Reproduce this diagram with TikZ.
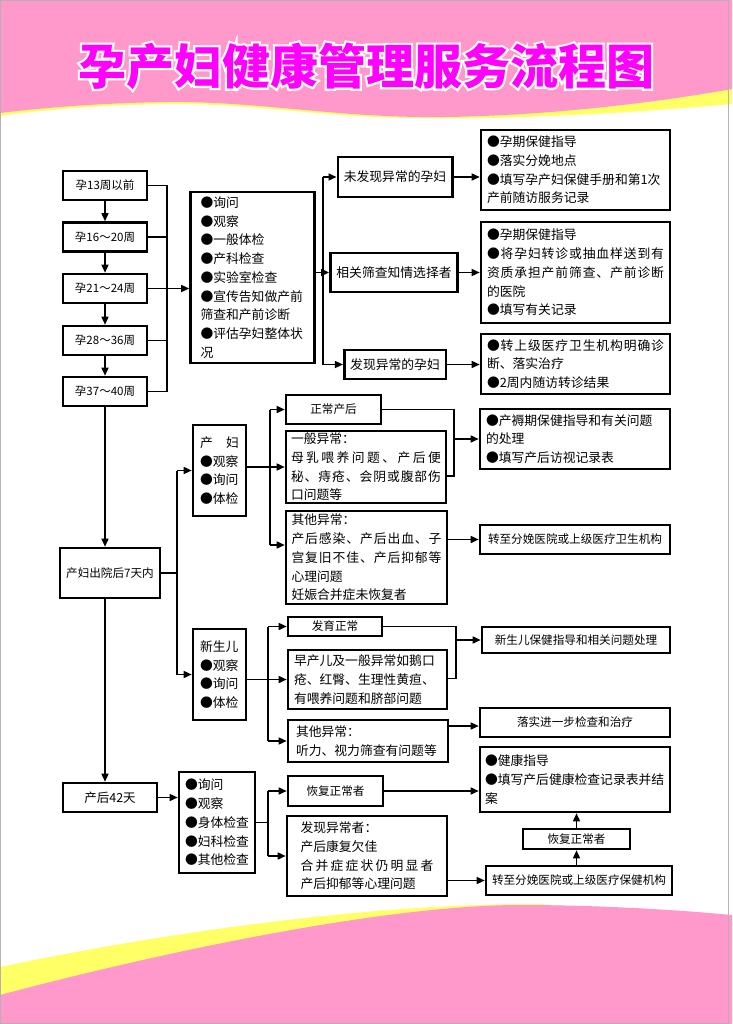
\documentclass[tikz,border=0pt]{standalone}
\usepackage{fontspec}
\setmainfont{Noto Sans CJK SC}
\newfontfamily\titleline{Noto Sans CJK SC}[BoldFeatures={FakeBold=9}]
\usetikzlibrary{arrows.meta}
\definecolor{bandpink}{HTML}{FF99CC}
\definecolor{bandyellow}{HTML}{FFFF66}
\definecolor{titlemag}{HTML}{FF00FF}

% spread the characters of one line over the full text width
\makeatletter
\def\spr@#1#2{#1\ifx\relax#2\expandafter\@gobble\else\hfil\fi\spr@#2}
\newcommand\spr[1]{\makebox[\hsize][s]{\spr@#1\relax}}
\makeatother

\begin{document}
\begin{tikzpicture}[x=1pt, y=-1pt,
    box/.style = {draw, line width=2.6pt, inner xsep=6pt, inner ysep=2pt, align=left, font=\fontsize{12.8}{18.7}\selectfont},
    sbox/.style = {box, align=center, font=\fontsize{11.6}{14}\selectfont},
    wbox/.style = {sbox, minimum width=84pt, minimum height=29pt, font=\fontsize{11.5}{14}\selectfont},
    line/.style = {line width=1.5pt},
    arrow/.style = {line, -{Triangle[length=8pt, width=7pt]}},
    titletext/.style = {font=\fontsize{48}{48}\selectfont\bfseries, inner sep=0pt}
]
    \useasboundingbox (0,0) rectangle (732,1024);

    % background bands
    \fill[white] (0,0) rectangle (732,1024);
    \fill[bandyellow] (0,0) -- (732,0) -- (732,104) .. controls (620,114) and (500,120) .. (410,118) .. controls (320,117) and (250,103) .. (167,104) .. controls (100,105) and (40,110) .. (0,116) -- cycle;
    \fill[bandpink] (0,0) -- (732,0) -- (732,89) .. controls (620,109) and (500,118) .. (420,117) .. controls (330,116) and (250,101) .. (167,102) .. controls (100,103) and (40,108) .. (0,113) -- cycle;
    \fill[bandyellow] (0,967) .. controls (200,925) and (400,903) .. (540,904) -- (732,918) -- (732,1024) -- (0,1024) -- cycle;
    \fill[bandpink] (0,995) .. controls (150,955) and (380,905) .. (520,905) .. controls (600,905) and (680,910) .. (732,915) -- (732,1024) -- (0,1024) -- cycle;
    \draw[gray!60, line width=1pt] (0.5,0.5) rectangle (728,1023.5);

    % title with white outline
    \node[titletext, font=\fontsize{48}{48}\selectfont\titleline\bfseries, text=white] (tout) at (366,66) {孕产妇健康管理服务流程图};
    \node[titletext, text=titlemag] (title) at (366,66) {孕产妇健康管理服务流程图};

    % pregnancy weeks
    \node[wbox] (w13) at (105,185.5) {孕13周以前};
    \node[wbox] (w16) at (105,237) {孕16～20周};
    \node[wbox] (w21) at (105,288.5) {孕21～24周};
    \node[wbox] (w28) at (105,340.5) {孕28～36周};
    \node[wbox] (w37) at (105,391.5) {孕37～40周};

    \node[box, text width=104pt, inner xsep=10pt, minimum height=171pt] (main) at (252.5,277.5)
        {●询问\\●观察\\●一般体检\\●产科检查\\●实验室检查\\●宣传告知做产前\\筛查和产前诊断\\●评估孕妇整体状\\况};

    \node[box, align=center, minimum width=100pt, minimum height=40pt] (sel1) at (395,177) {未发现异常的孕妇};
    \node[box, align=center, minimum width=114pt, minimum height=39pt] (sel2) at (394,272.5) {相关筛查知情选择者};
    \node[box, align=center, minimum width=96pt, minimum height=29pt] (sel3) at (395,364.5) {发现异常的孕妇};

    \node[box, text width=177pt, minimum height=80pt] (res1) at (575.5,170)
        {●孕期保健指导\\●落实分娩地点\\●填写孕产妇保健手册和第1次\\产前随访服务记录};
    \node[box, text width=177pt, minimum height=101pt] (res2) at (575.5,272.5)
        {●孕期保健指导\\\spr{●将孕妇转诊或抽血样送到有}\\\spr{资质承担产前筛查、产前诊断}\\的医院\\●填写有关记录};
    \node[box, text width=177pt, minimum height=60pt] (res3) at (575.5,364)
        {\spr{●转上级医疗卫生机构明确诊}\\断、落实治疗\\●2周内随访转诊结果};

    % after discharge
    \node[sbox, minimum width=94pt, minimum height=50pt] (pp7) at (110,573) {产妇出院后7天内};
    \node[box, text width=39pt, inner xsep=7pt, minimum height=91pt] (mom) at (219.5,470.5)
        {\makebox[\hsize][s]{产\hfil 妇}\\●观察\\●询问\\●体检};
    \node[box, text width=39pt, inner xsep=7pt, minimum height=91pt] (baby) at (219.5,674.5)
        {新生儿\\●观察\\●询问\\●体检};

    \node[sbox, minimum width=95pt, minimum height=29pt] (nor) at (333.5,409.5) {正常产后};
    \node[box, text width=150pt, inner xsep=5pt, minimum height=68pt] (gen) at (366,467)
        {一般异常：\\\spr{母乳喂养问题、产后便}\\\spr{秘、痔疮、会阴或腹部伤}\\口问题等};
    \node[box, text width=150pt, inner xsep=5.5pt, minimum height=93pt] (oth) at (366.5,557.5)
        {其他异常：\\\spr{产后感染、产后出血、子}\\\spr{宫复旧不佳、产后抑郁等}\\心理问题\\妊娠合并症未恢复者};
    \node[box, text width=178pt, minimum height=60pt] (rmom) at (575,439)
        {●产褥期保健指导和有关问题\\的处理\\●填写产后访视记录表};
    \node[sbox, minimum width=190pt, minimum height=29pt] (rtr) at (575,539.5) {转至分娩医院或上级医疗卫生机构};

    \node[sbox, minimum width=94pt, minimum height=19pt] (dev) at (335,626.5) {发育正常};
    \node[box, text width=147pt, minimum height=59pt] (pre) at (367.5,679.5)
        {早产儿及一般异常如鹅口\\疮、红臀、生理性黄疸、\\有喂养问题和脐部问题};
    \node[box, text width=144pt, inner xsep=8pt, minimum height=42pt] (oth2) at (368,741)
        {其他异常：\\听力、视力筛查有问题等};
    \node[sbox, minimum width=188pt, minimum height=26pt] (rbaby) at (576,640) {新生儿保健指导和相关问题处理};
    \node[sbox, minimum width=190pt, minimum height=29pt] (rfur) at (575,722.5) {落实进一步检查和治疗};

    % 42 days
    \node[sbox, minimum width=94pt, minimum height=29pt, font=\fontsize{12.5}{14}\selectfont] (d42) at (110,797.5) {产后42天};
    \node[box, text width=64pt, minimum height=101pt] (chk) at (217,822.5)
        {●询问\\●观察\\●身体检查\\●妇科检查\\●其他检查};
    \node[sbox, minimum width=95pt, minimum height=30pt] (rec) at (335.5,791) {恢复正常者};
    \node[box, text width=133pt, inner xsep=13.5pt, minimum height=80pt] (abn) at (367,856)
        {发现异常者：\\产后康复欠佳\\\spr{合并症症状仍明显者}\\产后抑郁等心理问题};
    \node[box, text width=180pt, inner xsep=5pt, minimum height=65pt] (hg) at (575,779.5)
        {●健康指导\\●填写产后健康检查记录表并结\\案};
    \node[sbox, minimum width=107pt, minimum height=20pt] (rec2) at (576.5,839) {恢复正常者};
    \node[sbox, minimum width=182pt, minimum height=29pt] (tr2) at (579,880.5) {转至分娩医院或上级医疗保健机构};

    % connectors: pregnancy
    \coordinate (bl) at (167,288.5);
    \foreach \a/\b in {w13/w16,w16/w21,w21/w28,w28/w37}
        \draw[arrow] (\a) -- (\b);
    \foreach \n in {w13,w16,w28,w37}
        \draw[line] (\n.east) -- (\n.east -| bl);
    \draw[line] (bl |- w13) -- (bl |- w37);
    \draw[arrow] (w21) -- (w21 -| main.west);

    \coordinate (bt) at (323,272.5);
    \draw[arrow] (main.east |- sel2) -- (sel2);
    \draw[line] (bt |- sel1) -- (bt |- sel3);
    \draw[arrow] (bt |- sel1) -- (sel1);
    \draw[arrow] (bt |- sel3) -- (sel3);
    \draw[arrow] (sel1) -- (sel1 -| res1.west);
    \draw[arrow] (sel2) -- (sel2 -| res2.west);
    \draw[arrow] (sel3) -- (sel3 -| res3.west);

    % connectors: after discharge
    \draw[arrow] (w37) -- (w37 |- pp7.north);
    \coordinate (bpp) at (177,573);
    \draw[line] (pp7.east) -- (bpp);
    \draw[line] (bpp |- mom) -- (bpp |- baby);
    \draw[arrow] (bpp |- mom) -- (mom);
    \draw[arrow] (bpp |- baby) -- (baby);

    \coordinate (bm) at (270,467);
    \coordinate (bo) at (270,545);
    \draw[line] (mom.east |- gen) -- (bm);
    \draw[line] (bm |- nor) -- (bo);
    \draw[arrow] (bm |- nor) -- (nor);
    \draw[arrow] (bm) -- (gen);
    \draw[arrow] (bo) -- (bo -| oth.west);
    \coordinate (rb) at (454,439);
    \draw[line] (nor.east) -- (nor.east -| rb) |- ([yshift=-9pt]gen.east);
    \draw[arrow] (rb) -- (rmom);
    \draw[arrow] (oth.east |- rtr) -- (rtr);

    \coordinate (bb) at (268,679.5);
    \draw[line] (baby.east |- pre) -- (bb);
    \draw[line] (bb |- dev) -- (bb |- oth2);
    \draw[arrow] (bb |- dev) -- (dev);
    \draw[arrow] (bb) -- (pre);
    \draw[arrow] (bb |- oth2) -- (oth2);
    \coordinate (rbb) at (456,640);
    \draw[line] (dev.east) -- (dev.east -| rbb) |- ([yshift=1pt]pre.east);
    \draw[arrow] (rbb) -- (rbaby);
    \draw[arrow] ([yshift=15pt]oth2.east) -- ([yshift=15pt]oth2.east -| rfur.west);

    % connectors: 42 days
    \draw[arrow] (pp7.south -| w37) -- (w37 |- d42.north);
    \draw[arrow] (d42) -- (d42 -| chk.west);
    \coordinate (bc) at (268,822.5);
    \draw[line] (chk.east) -- (bc);
    \draw[line] (bc |- rec) -- (bc |- abn);
    \draw[arrow] (bc |- rec) -- (rec);
    \draw[arrow] (bc |- abn) -- (abn);
    \draw[arrow] (rec) -- (rec -| hg.west);
    \draw[arrow] (abn.east |- tr2) -- (tr2);
    \draw[arrow] (tr2.north -| rec2) -- (rec2);
    \draw[arrow] (rec2) -- (rec2 |- hg.south);
\end{tikzpicture}
\end{document}
